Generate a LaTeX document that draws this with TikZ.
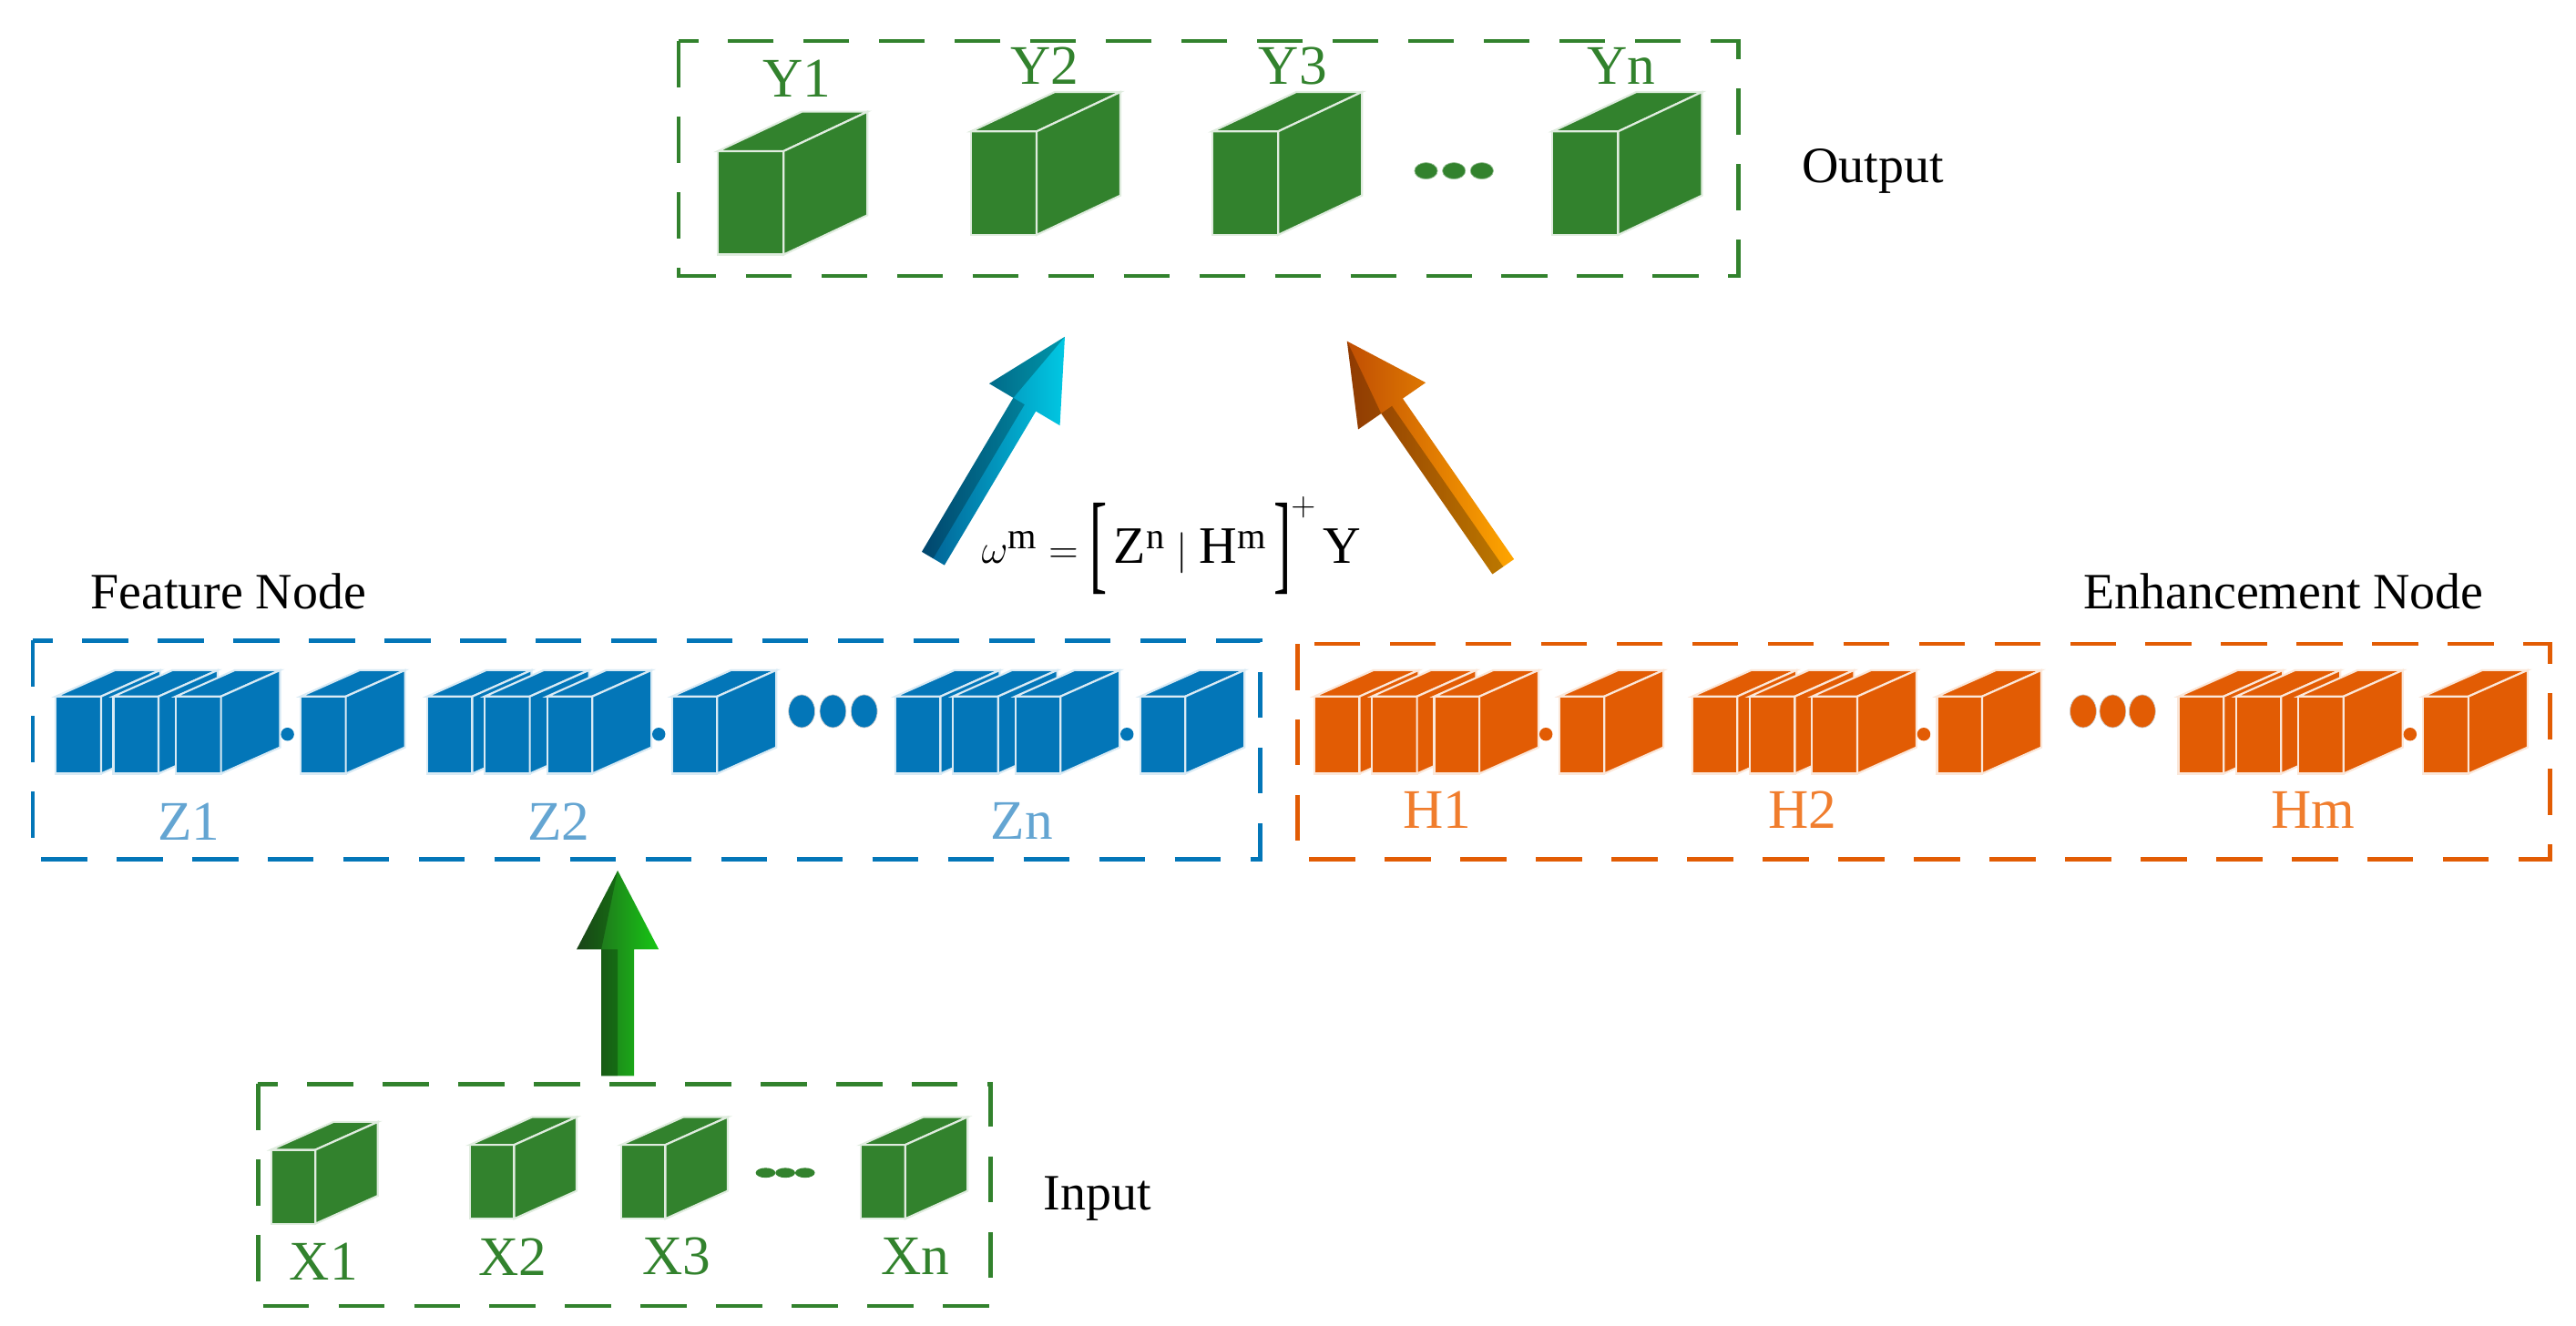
\documentclass[tikz,border=0pt]{standalone}
\usepackage{fontspec}
\setmainfont{Liberation Serif}
\begin{document}
\newcommand\mycube[7]{% x y w h dx dy color
 \fill[#7,draw=white!85!#7,line width=1.2] (#1,#2) rectangle ++(#3,#4);
 \fill[#7,draw=white!85!#7,line width=1.2] (#1,#2) -- ++(#5,-#6) -- ++(#3,0) -- ++(-#5,#6) -- cycle;
 \fill[#7,draw=white!85!#7,line width=1.2] (#1+#3,#2) -- ++(#5,-#6) -- ++(0,#4) -- ++(-#5,#6) -- cycle;}
\newcommand\blk[3]{% x y color : stacked group
 \mycube{#1}{#2}{27.5}{47}{36}{16}{#3}
 \mycube{#1+35}{#2}{27.5}{47}{36}{16}{#3}
 \mycube{#1+73}{#2}{27.5}{47}{36}{16}{#3}
 \fill[#3] (#1+141,#2+23) circle (4);
 \mycube{#1+149}{#2}{27.5}{47}{36}{16}{#3}}
\newcommand\arr[7]{% x y angle length halfshaft dark light
 \begin{scope}[shift={(#1,#2)},rotate=#3]
  \shade[left color=#6,right color=#7]
   (0,-#5) -- (#4-48,-#5) -- (#4-48,-25) -- (#4,0) -- (#4-48,25) -- (#4-48,#5) -- (0,#5) -- cycle;
  \fill[black,opacity=.25] (0,0) -- (#4-48,0) -- (#4-48,-25) -- (#4,0) -- (#4-48,-#5) -- (0,-#5) -- cycle;
 \end{scope}}
\newcommand\tallbr[1]{\raisebox{-0.3em}{\scalebox{1}[2.1]{#1}}}
\begin{tikzpicture}[x=1pt,y=-1pt,
 dbox/.style={dash pattern=on 28pt off 18pt,line width=2.6pt},
 lbl/.style={font=\fontsize{34}{36}\selectfont,inner sep=0},
 ttl/.style={font=\fontsize{31}{34}\selectfont,inner sep=0}]
\useasboundingbox (0,0) rectangle (1568,807);
\definecolor{gr}{RGB}{50,130,45}
\definecolor{bl}{RGB}{3,118,184}
\definecolor{lbl}{RGB}{100,165,210}
\definecolor{og}{RGB}{226,92,4}
\definecolor{lor}{RGB}{240,125,45}
% output
\draw[gr,dbox] (413,25) rectangle (1058,168);
\mycube{437}{92}{40}{63}{51}{24}{gr}
\mycube{591}{80}{40}{63}{51}{24}{gr}
\mycube{738}{80}{40}{63}{51}{24}{gr}
\mycube{945}{80}{40}{63}{51}{24}{gr}
\foreach \x in {868,885,902} \fill[gr,draw=gr!50!white] (\x,104) ellipse (7 and 5);
\node[lbl,text=gr] (y1) at (485,48) {Y1};
\node[lbl,text=gr] (y2) at (636,40) {Y2};
\node[lbl,text=gr] (y3) at (787,40) {Y3};
\node[lbl,text=gr] (yn) at (987,40) {Yn};
\node[ttl] (out) at (1140,104) {Output};
% arrows to output
\arr{568}{340}{59.3}{157}{8}{bl!80!black}{cyan!60!bl}
\arr{915}{345}{124.7}{167}{8}{og!85!black}{orange!70!yellow}
\node[inner sep=0,font=\fontsize{32}{34}\selectfont] (eq) at (713,332) {$\mathrm{\omega^{m}=\tallbr{[}\,Z^{n}\;|\;H^{m}\,\tallbr{]}^{+}\,Y}$};
% feature
\node[ttl] (fn) at (139,360) {Feature Node};
\draw[bl,dbox] (20,390) rectangle (767,523);
\blk{34}{424}{bl}
\blk{260}{424}{bl}
\blk{545}{424}{bl}
\foreach \x in {488,507,526} \fill[bl,draw=gray!40] (\x,433) ellipse (8 and 10);
\node[lbl,text=lbl] (z1) at (115,500) {Z1};
\node[lbl,text=lbl] (z2) at (340,500) {Z2};
\node[lbl,text=lbl] (zn) at (622,500) {Zn};
% enhancement
\node[ttl] (en) at (1390,360) {Enhancement Node};
\draw[og,dbox] (790,392) rectangle (1552,523);
\blk{800}{424}{og}
\blk{1030}{424}{og}
\blk{1326}{424}{og}
\foreach \x in {1268,1286,1304} \fill[og,draw=gray!40] (\x,433) ellipse (8 and 10);
\node[lbl,text=lor] (h1) at (875,493) {H1};
\node[lbl,text=lor] (h2) at (1097,493) {H2};
\node[lbl,text=lor] (hm) at (1408,493) {Hm};
% input
\arr{376}{655}{90}{125}{10}{gr!70!black}{green!55!gr}
\draw[gr,dbox] (157,660) rectangle (603,795);
\mycube{165}{700}{27}{45}{38}{17}{gr}
\mycube{286}{697}{27}{45}{38}{17}{gr}
\mycube{378}{697}{27}{45}{38}{17}{gr}
\mycube{524}{697}{27}{45}{38}{17}{gr}
\foreach \x in {466,478,490} \fill[gr] (\x,714) ellipse (6 and 3);
\node[lbl,text=gr] (x1) at (197,768) {X1};
\node[lbl,text=gr] (x2) at (312,765) {X2};
\node[lbl,text=gr] (x3) at (412,765) {X3};
\node[lbl,text=gr] (xn) at (557,765) {Xn};
\node[ttl] (in) at (668,730) {Input};
\end{tikzpicture}
\end{document}
